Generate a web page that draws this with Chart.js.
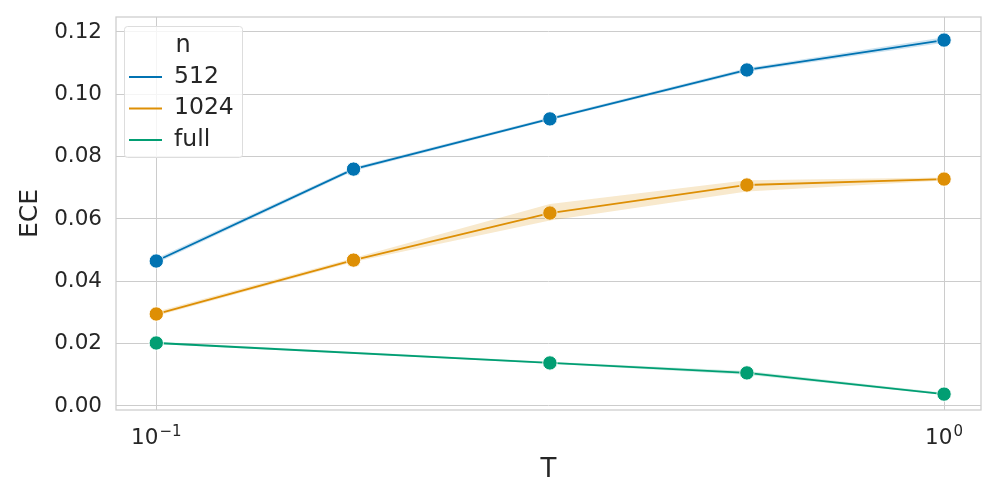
<!DOCTYPE html>
<html>
<head>
<meta charset="utf-8">
<script src="https://cdn.jsdelivr.net/npm/chart.js@4"></script>
<style>
    html, body { margin: 0; padding: 0; background: #fff; }
    #wrap { width: 1000px; height: 500px; }
</style>
</head>
<body>
<div id="wrap"><canvas id="eceChart" width="1000" height="500"></canvas></div>
<script>
// ECE vs temperature T, one line per n

const tValues = [0.1, 0.178, 0.316, 0.562, 1.0];
const tValuesFull = [0.1, 0.316, 0.562, 1.0];
const seriesNames = ['512', '1024', 'full'];

const ece512 = [0.0465, 0.0760, 0.0921, 0.1078, 0.1174];
const ece512Low = [0.0458, 0.0754, 0.0917, 0.1072, 0.1165];
const ece512High = [0.0473, 0.0766, 0.0926, 0.1084, 0.1183];

const ece1024 = [0.0295, 0.0468, 0.0619, 0.0709, 0.0728];
const ece1024Low = [0.0289, 0.0462, 0.0595, 0.0688, 0.0723];
const ece1024High = [0.0302, 0.0475, 0.0648, 0.0724, 0.0733];

const eceFull = [0.0202, 0.0138, 0.0106, 0.0038];
const eceFullLow = [0.0199, 0.0135, 0.0100, 0.0035];
const eceFullHigh = [0.0206, 0.0142, 0.0112, 0.0042];

const xTicks = [0.1, 1];
const xTickExps = ['\u22121', '0'];
const yTicks = [0, 0.02, 0.04, 0.06, 0.08, 0.10, 0.12];

const colors = ['#0173b2', '#de8f05', '#029e73'];
const bandColors = ['rgba(1,115,178,0.2)', 'rgba(222,143,5,0.2)', 'rgba(2,158,115,0.2)'];
const textColor = '#262626';

function pts(xs, ys) {
    return xs.map((x, i) => ({ x: x, y: ys[i] }));
}

function bandPair(xs, lo, hi, idx) {
    return [
        { data: pts(xs, lo), borderWidth: 0, pointRadius: 0, fill: false, backgroundColor: bandColors[idx] },
        { data: pts(xs, hi), borderWidth: 0, pointRadius: 0, fill: '-1', backgroundColor: bandColors[idx] }
    ];
}

function lineSet(xs, ys, idx) {
    return {
        label: seriesNames[idx],
        data: pts(xs, ys),
        borderColor: colors[idx],
        backgroundColor: colors[idx],
        borderWidth: 1.8,
        pointRadius: 7.2,
        pointBorderColor: '#fff',
        pointBorderWidth: 1,
        pointBackgroundColor: colors[idx],
        fill: false
    };
}

const datasets = [].concat(
    bandPair(tValues, ece512Low, ece512High, 0),
    bandPair(tValues, ece1024Low, ece1024High, 1),
    bandPair(tValuesFull, eceFullLow, eceFullHigh, 2),
    [lineSet(tValues, ece512, 0), lineSet(tValues, ece1024, 1), lineSet(tValuesFull, eceFull, 2)]
);

// plot frame, 10^k tick labels and legend box inside the axes
const framePlugin = {
    id: 'frame',
    afterDraw(chart) {
        const a = chart.chartArea;
        const c = chart.ctx;
        c.save();
        c.strokeStyle = '#cccccc';
        c.lineWidth = 1.25;
        c.strokeRect(a.left, a.top, a.right - a.left, a.bottom - a.top);

        // x tick labels with superscript exponents
        const xs = chart.scales.x;
        c.fillStyle = textColor;
        c.textBaseline = 'alphabetic';
        c.textAlign = 'left';
        xTicks.forEach((v, i) => {
            c.font = '21.5px "DejaVu Sans"';
            const baseW = c.measureText('10').width;
            c.font = '15px "DejaVu Sans"';
            const expW = c.measureText(xTickExps[i]).width;
            const x0 = xs.getPixelForValue(v) - (baseW + 1 + expW) / 2;
            c.font = '21.5px "DejaVu Sans"';
            c.fillText('10', x0, 444);
            c.font = '15px "DejaVu Sans"';
            c.fillText(xTickExps[i], x0 + baseW + 1, 436);
        });

        // legend
        const lx = 124, ly = 26, lw = 118, lh = 131;
        c.fillStyle = 'rgba(255,255,255,0.8)';
        c.strokeStyle = '#dddddd';
        c.lineWidth = 1;
        c.beginPath();
        c.roundRect(lx + 0.5, ly + 0.5, lw, lh, 3);
        c.fill();
        c.stroke();
        c.fillStyle = textColor;
        c.textBaseline = 'alphabetic';
        c.textAlign = 'center';
        c.font = '24px "DejaVu Sans"';
        c.fillText('n', 183, 52);
        c.textAlign = 'left';
        c.font = '23.5px "DejaVu Sans"';
        seriesNames.forEach((name, i) => {
            const y = 77 + i * 31.5;
            c.strokeStyle = colors[i];
            c.lineWidth = 1.8;
            c.beginPath();
            c.moveTo(129, y);
            c.lineTo(162, y);
            c.stroke();
            c.fillText(name, 174, y + 5.5);
        });
        c.restore();
    }
};

new Chart(document.getElementById('eceChart'), {
    type: 'line',
    data: { datasets: datasets },
    options: {
        responsive: false,
        animation: false,
        layout: { padding: { left: 0, top: 17, right: 19, bottom: 0 } },
        plugins: {
            legend: { display: false },
            tooltip: { enabled: false }
        },
        scales: {
            x: {
                type: 'logarithmic',
                min: 0.0889,
                max: 1.114,
                afterBuildTicks: (scale) => { scale.ticks = xTicks.map(v => ({ value: v })); },
                afterFit: (scale) => {
                    scale.height = 90;
                    scale.paddingLeft = 0;
                    scale.paddingRight = 0;
                },
                grid: { color: '#cccccc', lineWidth: 1, drawTicks: false },
                border: { display: false },
                ticks: { display: false },
                title: {
                    display: true,
                    text: 'T',
                    color: textColor,
                    font: { family: 'DejaVu Sans', size: 26 },
                    padding: { top: 0, bottom: 14 }
                }
            },
            y: {
                min: -0.0013,
                max: 0.1248,
                afterBuildTicks: (scale) => { scale.ticks = yTicks.map(v => ({ value: v })); },
                afterFit: (scale) => {
                    scale.width = 116;
                    scale.paddingTop = 0;
                    scale.paddingBottom = 0;
                },
                grid: { color: '#cccccc', lineWidth: 1, drawTicks: false },
                border: { display: false },
                ticks: {
                    padding: 14,
                    color: textColor,
                    font: { family: 'DejaVu Sans', size: 21.5 },
                    callback: (v) => v.toFixed(2)
                },
                title: {
                    display: true,
                    text: 'ECE',
                    color: textColor,
                    font: { family: 'DejaVu Sans', size: 25 },
                    padding: { top: 15, bottom: 0 }
                }
            }
        }
    },
    plugins: [framePlugin]
});
</script>
</body>
</html>
